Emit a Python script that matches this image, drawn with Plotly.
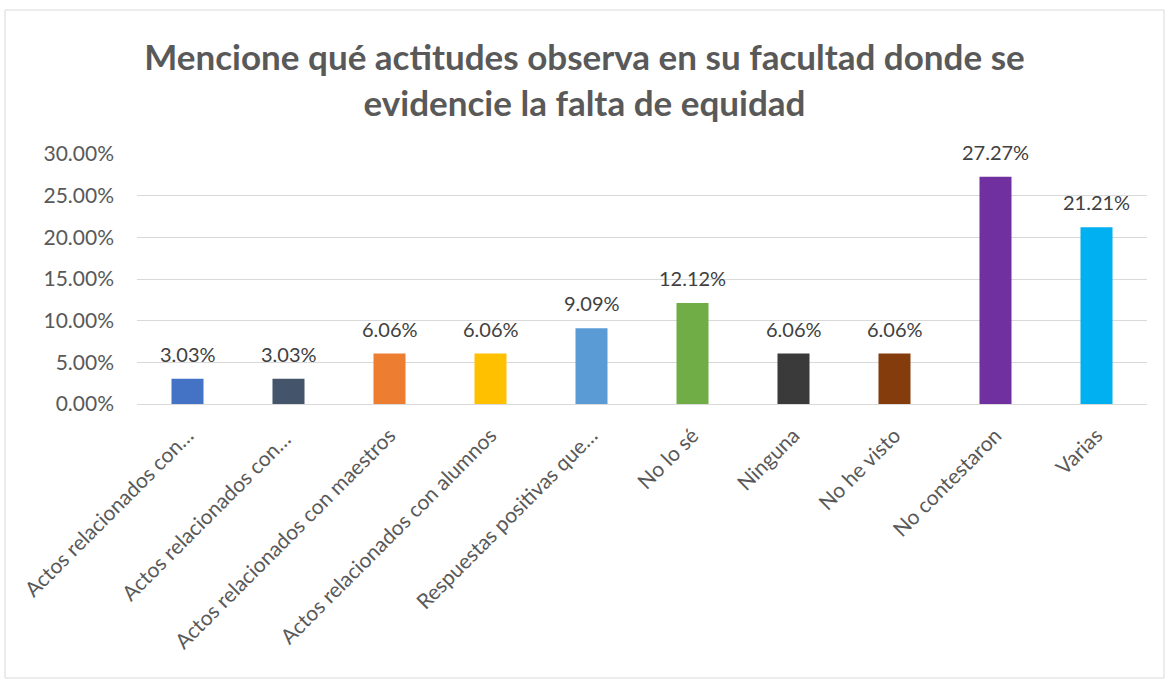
import plotly.graph_objects as go

categories = [
    "Actos relacionados con…",
    "Actos relacionados con… ",
    "Actos relacionados con maestros",
    "Actos relacionados con alumnos",
    "Respuestas positivas que…",
    "No lo sé",
    "Ninguna",
    "No he visto",
    "No contestaron",
    "Varias",
]
values = [0.0303, 0.0303, 0.0606, 0.0606, 0.0909, 0.1212, 0.0606, 0.0606, 0.2727, 0.2121]
colors = ["#4472C4", "#44546A", "#ED7D31", "#FFC000", "#5B9BD5",
          "#70AD47", "#3A3A3A", "#843C0C", "#7030A0", "#00B0F0"]
y_ticks = [0, 0.05, 0.10, 0.15, 0.20, 0.25, 0.30]
title = "Mencione qué actitudes observa en su facultad donde se<br>evidencie la falta de equidad"

FONT = "Lato"
W, H = 1169, 681
L, R, T, B = 137, 22, 154, 277

fig = go.Figure(go.Bar(
    x=categories, y=values,
    marker=dict(color=colors, line=dict(width=0)),
    cliponaxis=False, width=0.317, hoverinfo="skip",
))

for c, v in zip(categories, values):
    fig.add_annotation(x=c, y=v, text=f"{v:.2%}", showarrow=False,
                       xanchor="center", yanchor="middle", yshift=25,
                       font=dict(family=FONT, size=20, color="#404040"))

pw = W - L - R
ph = H - T - B
def px(x):
    return (x - L) / pw
def py(y):
    return (H - B - y) / ph

fig.add_shape(type="rect", xref="paper", yref="paper",
              x0=px(5), x1=px(1164), y0=py(10), y1=py(678),
              line=dict(color="#D9D9D9", width=1), layer="below")

fig.update_layout(
    width=W, height=H,
    margin=dict(l=L, r=R, t=T, b=B),
    paper_bgcolor="white", plot_bgcolor="white",
    title=dict(text=title, x=0.5, xref="container", xanchor="center",
               y=1 - 70 / H, yref="container", yanchor="middle",
               font=dict(family=FONT, size=35, color="#595959", weight="bold")),
    font=dict(family=FONT, color="#595959"),
    showlegend=False,
    xaxis=dict(tickangle=-45, tickfont=dict(size=21, color="#595959", family=FONT),
               showline=True, linecolor="#D9D9D9", linewidth=1, ticks="",
               showgrid=False, ticklabelstandoff=10),
    yaxis=dict(range=[0, 0.30], tickvals=y_ticks, tickformat=".2%",
               tickfont=dict(size=21, color="#595959", family=FONT),
               showgrid=True, gridcolor="#D9D9D9", gridwidth=1,
               zeroline=False, showline=False, ticks="", ticklen=0,
               ticklabelstandoff=22),
)

fig.write_html("out.html", config={"displayModeBar": False},
               post_script="document.body.style.margin='0px';")
